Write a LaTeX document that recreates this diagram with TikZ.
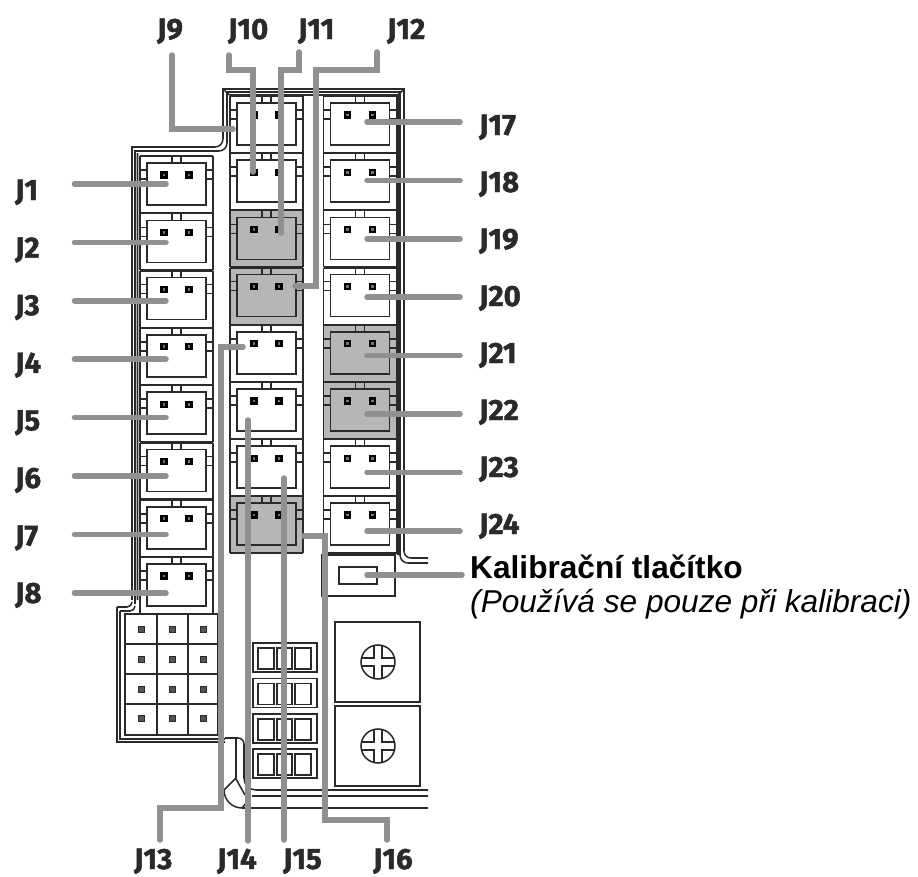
\documentclass[tikz,border=0pt]{standalone}
\usepackage{fontspec}
\setmainfont{Liberation Sans}
\newfontfamily\jackfont{Fira Sans}[BoldFeatures={FakeBold=1.6}]
\definecolor{leadergray}{HTML}{909090}
\definecolor{jackgray}{HTML}{B6B6B6}
\definecolor{wallblack}{HTML}{2A2A2A}
\tikzset{
    wall/.style={draw=wallblack, line width=1.3pt},
    leader/.style={draw=leadergray, line width=4.7pt, line cap=round},
    jacklabel/.style={font=\jackfont\bfseries\fontsize{25}{25}\selectfont, text=wallblack, inner sep=0pt},
    jackleft/.style={jacklabel, anchor=base west, text width=7.5mm},
    jackright/.style={jacklabel, anchor=base west},
    pics/jack/.style={code={
        \fill[#1] (0,0) rectangle (73,57);
        \draw[wall]
            (0,0) -- ++(0,57)
            (73,0) -- ++(0,57)
            (7,7) rectangle (66,49)
            (32,0) -- ++(0,7)
            (41,0) -- ++(0,7)
            (0,14) -- ++(7,0)
            (0,23) -- ++(7,0)
            (66,14) -- ++(7,0)
            (66,23) -- ++(7,0)
        ;
        \draw[wall, line width=1.8pt]
            (0,0) -- ++(73,0)
            (0,57) -- ++(73,0)
        ;
        \filldraw[draw=black, fill=black!55, line width=1.8pt]
            (21.5,16.5) rectangle ++(5,5)
            (46.5,16.5) rectangle ++(5,5)
        ;
    }},
    pics/terminal/.style={code={
        \draw[wall]
            (0,0) rectangle (64,29)
            (5,5) rectangle ++(16,21)
            (24,5) rectangle ++(15,21)
            (42,5) rectangle ++(16,21)
        ;
    }},
    pics/trimmer/.style={code={
        \draw[wall]
            (0,0) circle (17)
            (-16.5,-4) -- (-4,-4) -- (-4,-16.5)
            (4,-16.5) -- (4,-4) -- (16.5,-4)
            (16.5,4) -- (4,4) -- (4,16.5)
            (-4,16.5) -- (-4,4) -- (-16.5,4)
        ;
    }},
}
\begin{document}
\begin{tikzpicture}[x=0.3mm, y=-0.3mm]
    \useasboundingbox (0,0) rectangle (918,877);

    % left column
    \pic at (140,156) {jack=white};
    \pic at (140,213.3) {jack=white};
    \pic at (140,270.6) {jack=white};
    \pic at (140,327.9) {jack=white};
    \pic at (140,385.2) {jack=white};
    \pic at (140,442.5) {jack=white};
    \pic at (140,499.8) {jack=white};
    \pic at (140,557) {jack=white};

    % middle column
    \pic at (230,96) {jack=white};
    \pic at (230,153.2) {jack=white};
    \pic at (230,210.4) {jack=jackgray};
    \pic at (230,267.6) {jack=jackgray};
    \pic at (230,324.8) {jack=white};
    \pic at (230,382) {jack=white};
    \pic at (230,439.2) {jack=white};
    \pic at (230,496) {jack=jackgray};

    % right column
    \pic at (323.5,96) {jack=white};
    \pic at (323.5,153.2) {jack=white};
    \pic at (323.5,210.4) {jack=white};
    \pic at (323.5,267.6) {jack=white};
    \pic at (323.5,324.8) {jack=jackgray};
    \pic at (323.5,382) {jack=jackgray};
    \pic at (323.5,439.2) {jack=white};
    \pic at (323.5,496) {jack=white};

    % housing walls
    \draw[wall]
        (132,600) -- (132,147) -- (215,147) arc (90:0:8) -- (223,89) -- (404,89) -- (404,551) arc (180:90:7) -- (428,558)
        (135,604) -- (135,151) -- (219,151) arc (90:0:8) -- (227,92) -- (400,92) -- (400,555) arc (180:90:8) -- (428,563)
        (137.5,600) -- (137.5,153)
        (229.5,95) -- (398,95) -- (398,555)
        (223,89) -- (229.5,95)
        (404,89) -- (398,95)

        (117,607) -- (127,607) arc (90:0:5)
        (120,611) -- (130,611) arc (90:0:5)
        (117,607) -- (117,742) -- (225,742)
        (120,611) -- (120,739) -- (225,739)
        (125,614) -- (125,735) -- (218,735)

        (225,738) -- (238,738) arc (-90:0:6) -- (244,778) arc (180:90:12)
        (236,738) -- (236,778) -- (224,790) arc (180:90:18) -- (247,802)
        (236,779) -- (245,795)
        (252,796) -- (428,796)
        (256,790) -- (428,790)
        (242,808) -- (428,808)
    ;

    % header block
    \draw[wall]
        (125,614) rectangle (218,735)
        (157,614) -- ++(0,121)
        (188,614) -- ++(0,121)
        (125,644) -- ++(93,0)
        (125,674) -- ++(93,0)
        (125,704) -- ++(93,0)
    ;
    \filldraw[draw=wallblack, fill=wallblack!80, line width=1pt]
        (138.5,626.5) rectangle ++(6,6)
        (169.5,626.5) rectangle ++(6,6)
        (200.5,626.5) rectangle ++(6,6)
        (138.5,656.5) rectangle ++(6,6)
        (169.5,656.5) rectangle ++(6,6)
        (200.5,656.5) rectangle ++(6,6)
        (138.5,686.5) rectangle ++(6,6)
        (169.5,686.5) rectangle ++(6,6)
        (200.5,686.5) rectangle ++(6,6)
        (138.5,715.5) rectangle ++(6,6)
        (169.5,715.5) rectangle ++(6,6)
        (200.5,715.5) rectangle ++(6,6)
    ;

    % terminals, button and trimmers
    \pic at (253,643) {terminal};
    \pic at (253,678.5) {terminal};
    \pic at (253,714) {terminal};
    \pic at (253,749) {terminal};
    \draw[wall]
        (322,555) rectangle (395,596)
        (339,567) rectangle (377,584)
        (335,622) rectangle (420,702)
        (335,706) rectangle (420,786)
    ;
    \pic at (378,662) {trimmer};
    \pic at (378,746) {trimmer};

    % labels
    \node[jackleft] (j1) at (15,200) {J1};
    \node[jackleft] (j2) at (15,257.6) {J2};
    \node[jackleft] (j3) at (15,315.2) {J3};
    \node[jackleft] (j4) at (15,372.8) {J4};
    \node[jackleft] (j5) at (15,430.4) {J5};
    \node[jackleft] (j6) at (15,488) {J6};
    \node[jackleft] (j7) at (15,545.6) {J7};
    \node[jackleft] (j8) at (15,603) {J8};

    \node[jacklabel, anchor=base west] (j9) at (157,39) {J9};
    \node[jacklabel, anchor=base west] (j10) at (228,39) {J10};
    \node[jacklabel, anchor=base west] (j11) at (298,39) {J11};
    \node[jacklabel, anchor=base west] (j12) at (387,39) {J12};

    \node[jacklabel, anchor=base west] (j13) at (134,869) {J13};
    \node[jacklabel, anchor=base west] (j14) at (217,869) {J14};
    \node[jacklabel, anchor=base west] (j15) at (283,869) {J15};
    \node[jacklabel, anchor=base west] (j16) at (373,869) {J16};

    \node[jackright] (j17) at (479,135) {J17};
    \node[jackright] (j18) at (479,192) {J18};
    \node[jackright] (j19) at (479,249) {J19};
    \node[jackright] (j20) at (479,306) {J20};
    \node[jackright] (j21) at (479,363) {J21};
    \node[jackright] (j22) at (479,420) {J22};
    \node[jackright] (j23) at (479,477) {J23};
    \node[jackright] (j24) at (479,534) {J24};

    \node[inner sep=0pt, anchor=base west, font=\bfseries\fontsize{27}{27}\selectfont] (btn) at (470,578) {Kalibrační tlačítko};
    \node[inner sep=0pt, anchor=base west, font=\itshape\fontsize{27}{27}\selectfont] (btnnote) at (470,612) {(Používá se pouze při kalibraci)};

    % leader ends
    \path
        (166,184) coordinate (j1b)
        (166,242.4) coordinate (j2b)
        (166,300.8) coordinate (j3b)
        (166,359.2) coordinate (j4b)
        (166,417.6) coordinate (j5b)
        (166,476) coordinate (j6b)
        (166,534.4) coordinate (j7b)
        (166,593) coordinate (j8b)

        (172,55) coordinate (j9a)
        (172,129) coordinate (j9c)
        (233,129) coordinate (j9b)
        (229,55) coordinate (j10a)
        (229,70) coordinate (j10c)
        (253,70) coordinate (j10d)
        (253,172) coordinate (j10b)
        (299,52) coordinate (j11a)
        (299,70) coordinate (j11c)
        (281,70) coordinate (j11d)
        (281,233) coordinate (j11b)
        (377,52) coordinate (j12a)
        (377,70) coordinate (j12c)
        (316,70) coordinate (j12d)
        (316,286) coordinate (j12e)
        (295,286) coordinate (j12b)

        (160,840) coordinate (j13a)
        (160,808) coordinate (j13c)
        (221,808) coordinate (j13d)
        (221,347) coordinate (j13e)
        (243,347) coordinate (j13b)
        (248,841) coordinate (j14a)
        (248,420) coordinate (j14b)
        (284,840) coordinate (j15a)
        (284,478) coordinate (j15b)
        (387,840) coordinate (j16a)
        (387,820) coordinate (j16c)
        (325,820) coordinate (j16d)
        (325,536) coordinate (j16e)
        (304,536) coordinate (j16b)

        (367,122) coordinate (j17b)
        (367,180.4) coordinate (j18b)
        (367,238.8) coordinate (j19b)
        (367,297.2) coordinate (j20b)
        (367,355.6) coordinate (j21b)
        (367,414) coordinate (j22b)
        (367,472.4) coordinate (j23b)
        (367,531) coordinate (j24b)
        (367,575) coordinate (btnb)
    ;

    % leaders
    \draw[leader, shorten <=10.2mm] (j1.east |- j1b) -- (j1b);
    \draw[leader, shorten <=10.2mm] (j2.east |- j2b) -- (j2b);
    \draw[leader, shorten <=10.2mm] (j3.east |- j3b) -- (j3b);
    \draw[leader, shorten <=10.2mm] (j4.east |- j4b) -- (j4b);
    \draw[leader, shorten <=10.2mm] (j5.east |- j5b) -- (j5b);
    \draw[leader, shorten <=10.2mm] (j6.east |- j6b) -- (j6b);
    \draw[leader, shorten <=10.2mm] (j7.east |- j7b) -- (j7b);
    \draw[leader, shorten <=10.2mm] (j8.east |- j8b) -- (j8b);

    \draw[leader] (j9a) -- (j9c) -- (j9b);
    \draw[leader] (j10a) -- (j10c) -- (j10d) -- (j10b);
    \draw[leader] (j11a) -- (j11c) -- (j11d) -- (j11b);
    \draw[leader] (j12a) -- (j12c) -- (j12d) -- (j12e) -- (j12b);

    \draw[leader] (j13a) -- (j13c) -- (j13d) -- (j13e) -- (j13b);
    \draw[leader] (j14a) -- (j14b);
    \draw[leader] (j15a) -- (j15b);
    \draw[leader] (j16a) -- (j16c) -- (j16d) -- (j16e) -- (j16b);

    \draw[leader, shorten <=5.7mm] (j17.west |- j17b) -- (j17b);
    \draw[leader, shorten <=5.7mm] (j18.west |- j18b) -- (j18b);
    \draw[leader, shorten <=5.7mm] (j19.west |- j19b) -- (j19b);
    \draw[leader, shorten <=5.7mm] (j20.west |- j20b) -- (j20b);
    \draw[leader, shorten <=5.7mm] (j21.west |- j21b) -- (j21b);
    \draw[leader, shorten <=5.7mm] (j22.west |- j22b) -- (j22b);
    \draw[leader, shorten <=5.7mm] (j23.west |- j23b) -- (j23b);
    \draw[leader, shorten <=5.7mm] (j24.west |- j24b) -- (j24b);
    \draw[leader, shorten <=2.4mm] (btn.west |- btnb) -- (btnb);
\end{tikzpicture}
\end{document}
